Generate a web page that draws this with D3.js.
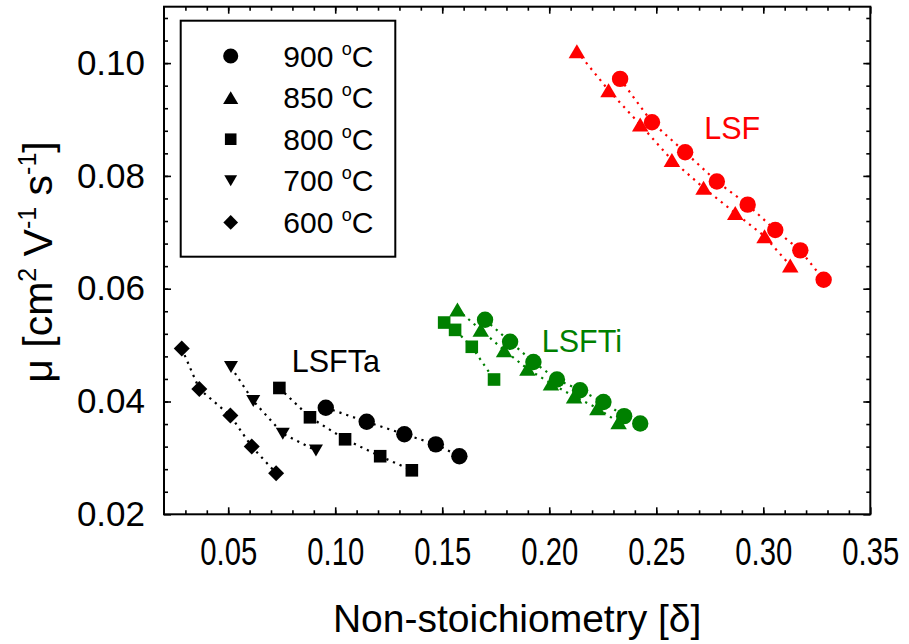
<!DOCTYPE html>
<html>
<head>
<meta charset="utf-8">
<script src="https://cdn.jsdelivr.net/npm/d3@7/dist/d3.min.js"></script>
<style>
  body { margin: 0; background: #fff; }
  svg text { font-family: Arial, "Liberation Sans", sans-serif; }
</style>
</head>
<body>
<div id="chart"></div>
<script>
// legend entries
var temps = ['900', '850', '800', '700', '600'];
var shapes = ['circle', 'up', 'square', 'down', 'diamond'];

// axis ticks
var xMajor = [0.05, 0.10, 0.15, 0.20, 0.25, 0.30, 0.35];
var xMinor = d3.range(3, 35).map(function(d) { return d / 100; });
var yMajor = [0.02, 0.04, 0.06, 0.08, 0.10];
var yMinor = d3.range(6, 28).map(function(d) { return d * 0.004; });

// [delta, mu] per series
var lsfta900 = [[0.0956, 0.0389], [0.1147, 0.0364], [0.1323, 0.0342], [0.1470, 0.0324], [0.1580, 0.0303]];
var lsfta800 = [[0.0739, 0.0424], [0.0882, 0.0372], [0.1046, 0.0333], [0.1210, 0.0303], [0.1358, 0.0278]];
var lsfta700 = [[0.0513, 0.0461], [0.0617, 0.0401], [0.0755, 0.0343], [0.0910, 0.0313]];
var lsfta600 = [[0.0283, 0.0494], [0.0365, 0.0422], [0.0510, 0.0375], [0.0610, 0.0320], [0.0724, 0.0273]];

var lsfti900 = [[0.1700, 0.0545], [0.1817, 0.0506], [0.1926, 0.0470], [0.2036, 0.0439], [0.2144, 0.0420], [0.2253, 0.0399], [0.2350, 0.0374], [0.2425, 0.0361]];
var lsfti850 = [[0.1571, 0.0563], [0.1680, 0.0527], [0.1789, 0.0491], [0.1898, 0.0458], [0.2008, 0.0432], [0.2116, 0.0409], [0.2225, 0.0388], [0.2324, 0.0363]];
var lsfti800 = [[0.1509, 0.0540], [0.1560, 0.0527], [0.1638, 0.0497], [0.1742, 0.0439]];

var lsf900 = [[0.2331, 0.0972], [0.2480, 0.0895], [0.2635, 0.0842], [0.2783, 0.0790], [0.2927, 0.0749], [0.3056, 0.0704], [0.3173, 0.0668], [0.3282, 0.0616]];
var lsf850 = [[0.2129, 0.1021], [0.2277, 0.0952], [0.2425, 0.0891], [0.2573, 0.0828], [0.2721, 0.0779], [0.2869, 0.0734], [0.3006, 0.0693], [0.3126, 0.0641]];

var series = [
  { pts: lsfta900, shape: 'circle', color: '#000' },
  { pts: lsfta800, shape: 'square', color: '#000' },
  { pts: lsfta700, shape: 'down', color: '#000' },
  { pts: lsfta600, shape: 'diamond', color: '#000' },
  { pts: lsfti850, shape: 'up', color: '#008000' },
  { pts: lsfti900, shape: 'circle', color: '#008000' },
  { pts: lsfti800, shape: 'square', color: '#008000' },
  { pts: lsf900, shape: 'circle', color: '#ff0000' },
  { pts: lsf850, shape: 'up', color: '#ff0000' }
];

var labels = [
  { text: 'LSFTa', x: 0.0797, y: 0.0452, color: '#000' },
  { text: 'LSFTi', x: 0.1965, y: 0.0488, color: '#008000' },
  { text: 'LSF', x: 0.2724, y: 0.0865, color: '#ff0000' }
];

var width = 909, height = 644;
var margin = { top: 6.7, right: 38.7, bottom: 129.7, left: 164 };
var w = width - margin.left - margin.right,
  h = height - margin.top - margin.bottom;

var x = d3.scaleLinear().domain([0.02, 0.35]).range([0, w]);
var y = d3.scaleLinear().domain([0.02, 0.11]).range([h, 0]);

function shapePath (type, k) {
  k = k || 1;
  var r;
  if (type === 'circle') {
    r = 8.2 * k;
    return 'M' + r + ',0A' + r + ',' + r + ' 0 1,1 ' + (-r) + ',0A' + r + ',' + r + ' 0 1,1 ' + r + ',0Z';
  }
  if (type === 'up') {
    var tw = 16.5 * k, th = 14 * k;
    return 'M0,' + (-th / 2) + 'L' + (tw / 2) + ',' + (th / 2) + 'L' + (-tw / 2) + ',' + (th / 2) + 'Z';
  }
  if (type === 'down') {
    var dw = 14 * k, dh = 12 * k;
    return 'M0,' + (dh / 2) + 'L' + (dw / 2) + ',' + (-dh / 2) + 'L' + (-dw / 2) + ',' + (-dh / 2) + 'Z';
  }
  if (type === 'square') {
    r = 6.3 * k;
    return 'M' + (-r) + ',' + (-r) + 'H' + r + 'V' + r + 'H' + (-r) + 'Z';
  }
  r = 8 * k;
  return 'M0,' + (-r) + 'L' + r + ',0L0,' + r + 'L' + (-r) + ',0Z';
}

var svg = d3.select('#chart')
  .append('svg')
  .attr('width', width)
  .attr('height', height);

var g = svg.append('g')
  .attr('transform', 'translate(' + margin.left + ',' + margin.top + ')');

// axes, ticks pointing inward
g.append('g').attr('transform', 'translate(0,' + h + ')')
  .call(d3.axisBottom(x).tickValues(xMinor).tickSize(-4).tickFormat(''));
var xLab = g.append('g').attr('transform', 'translate(0,' + h + ')')
  .call(d3.axisBottom(x).tickValues(xMajor).tickSize(-7).tickPadding(24).tickFormat(d3.format('.2f')));
g.append('g')
  .call(d3.axisTop(x).tickValues(xMinor).tickSize(-4).tickFormat(''));
g.append('g')
  .call(d3.axisTop(x).tickValues(xMajor).tickSize(-7).tickFormat(''));

g.append('g')
  .call(d3.axisLeft(y).tickValues(yMinor).tickSize(-4).tickFormat(''));
var yLab = g.append('g')
  .call(d3.axisLeft(y).tickValues(yMajor).tickSize(-7).tickPadding(19).tickFormat(d3.format('.2f')));
g.append('g').attr('transform', 'translate(' + w + ',0)')
  .call(d3.axisRight(y).tickValues(yMinor).tickSize(-4).tickFormat(''));
g.append('g').attr('transform', 'translate(' + w + ',0)')
  .call(d3.axisRight(y).tickValues(yMajor).tickSize(-7).tickFormat(''));

g.selectAll('.domain').remove();
g.selectAll('.tick line').attr('stroke', '#000').attr('stroke-width', 1.6);
g.selectAll('.tick text').attr('fill', '#000');

// x tick labels are narrow and tall in the original
xLab.selectAll('.tick text')
  .style('font-size', '38px')
  .attr('transform', 'scale(0.77,1)');
yLab.selectAll('.tick text')
  .style('font-size', '35px');

g.append('rect')
  .attr('width', w)
  .attr('height', h)
  .attr('fill', 'none')
  .attr('stroke', '#000')
  .attr('stroke-width', 2);

// dotted connecting lines
var line = d3.line()
  .x(function(d) { return x(d[0]); })
  .y(function(d) { return y(d[1]); });

g.selectAll('path.link')
  .data(series)
  .enter().append('path')
  .attr('class', 'link')
  .attr('d', function(d) { return line(d.pts); })
  .attr('fill', 'none')
  .attr('stroke', function(d) { return d.color; })
  .attr('stroke-width', 2.2)
  .attr('stroke-dasharray', '2.2 5');

// markers
series.forEach(function(s) {
  g.selectAll(null)
    .data(s.pts)
    .enter().append('path')
    .attr('d', shapePath(s.shape))
    .attr('transform', function(d) { return 'translate(' + x(d[0]) + ',' + y(d[1]) + ')'; })
    .attr('fill', s.color);
});

// material labels
g.selectAll('text.mat')
  .data(labels)
  .enter().append('text')
  .attr('class', 'mat')
  .attr('x', function(d) { return x(d.x); })
  .attr('y', function(d) { return y(d.y); })
  .attr('fill', function(d) { return d.color; })
  .style('font-size', '30.5px')
  .text(function(d) { return d.text; });

// legend
var legend = svg.append('g');
legend.append('rect')
  .attr('x', 180.7)
  .attr('y', 20.7)
  .attr('width', 214.6)
  .attr('height', 236)
  .attr('fill', '#fff')
  .attr('stroke', '#000')
  .attr('stroke-width', 2);

var rows = legend.selectAll('g.row')
  .data(temps)
  .enter().append('g')
  .attr('class', 'row')
  .attr('transform', function(d, i) { return 'translate(230.7,' + (56 + i * 41.6) + ')'; });

rows.append('path')
  .attr('d', function(d, i) { return shapePath(shapes[i], 0.92); })
  .attr('fill', '#000');

var lt = rows.append('text')
  .attr('x', 52.6)
  .attr('y', 10.5)
  .attr('fill', '#000')
  .style('font-size', '30px');
lt.append('tspan').text(function(d) { return d + ' '; });
lt.append('tspan').attr('dy', -12).style('font-size', '18px').text('o');
lt.append('tspan').attr('dy', 12).text('C');

// axis titles
svg.append('text')
  .attr('x', margin.left + w / 2)
  .attr('y', 632)
  .attr('text-anchor', 'middle')
  .attr('fill', '#000')
  .style('font-size', '39px')
  .text('Non-stoichiometry [δ]');

var yt = svg.append('text')
  .attr('transform', 'translate(52,262) rotate(-90)')
  .attr('text-anchor', 'middle')
  .attr('fill', '#000')
  .style('font-size', '41px');
yt.append('tspan').text('μ [cm');
yt.append('tspan').attr('dy', -16).style('font-size', '25px').text('2');
yt.append('tspan').attr('dy', 16).text(' V');
yt.append('tspan').attr('dy', -16).style('font-size', '25px').text('-1');
yt.append('tspan').attr('dy', 16).text(' s');
yt.append('tspan').attr('dy', -16).style('font-size', '25px').text('-1');
yt.append('tspan').attr('dy', 16).text(']');
</script>
</body>
</html>
